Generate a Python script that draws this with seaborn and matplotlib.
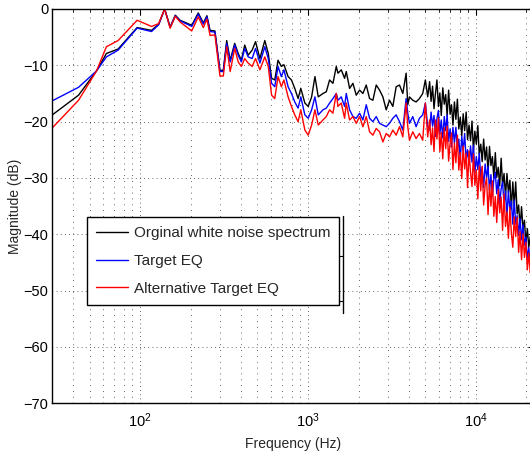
import matplotlib
matplotlib.use("Agg")
import matplotlib.pyplot as plt
import seaborn as sns
import pandas as pd
from matplotlib.lines import Line2D
from matplotlib.ticker import LogLocator

# ---------------- data ----------------
freq_hz = [
    30, 43, 55, 63, 74, 96, 117, 129, 140, 151, 162, 173, 203, 222, 238, 250, 261, 279, 299, 313, 328,
    344, 366, 384, 401, 420, 440, 465, 487, 517, 553, 580, 607, 634, 663, 694, 719, 761, 797, 834, 873,
    906, 958, 1003, 1051, 1100, 1151,
    1228, 1285, 1345, 1408, 1474, 1508, 1578, 1652, 1690, 1769, 1852, 1938, 2029, 2124, 2223, 2327, 2435,
    2549, 2668, 2793, 2923, 3058, 3201, 3351, 3507, 3671, 3841, 3929, 4020, 4208, 4404, 4610, 4823, 5001, 5164,
    5300, 5410, 5520, 5630, 5740, 5860, 5980, 6100, 6220, 6350, 6480, 6610, 6740, 6880, 7020, 7160, 7300,
    7450, 7600, 7760, 7910, 8070, 8240, 8400, 8570, 8750, 8920, 9100, 9290, 9480, 9670, 9860, 10060, 10270,
    10470, 10690, 10900, 11120, 11350, 11580, 11810, 12050, 12290, 12540, 12790, 13050, 13310, 13580, 13860,
    14140, 14420, 14710, 15010, 15310, 15620, 15940, 16260, 16590, 16920, 17260, 17610, 17970, 18330, 18700,
    19080, 19460, 19850, 20250, 20660, 21080, 21500,
]

original_db = [
    -18.8, -15.3, -11.0, -7.9, -7.1, -3.3, -3.8, -2.7, 0.0, -3.2, -1.1, -2.0, -2.9, -0.7, -2.5, -1.2, -3.8, -3.9, -10.9, -10.9, -5.6,
    -9.1, -6.1, -7.9, -9.1, -6.4, -8.2, -7.3, -5.8, -8.8, -5.6, -7.9, -12.3, -12.6, -9.1, -10.2, -9.9, -12.0, -12.6, -14.1, -15.9,
    -14.1, -16.7, -17.3, -15.6, -12.0, -15.6,
    -15.0, -14.7, -12.6, -13.2, -10.2, -11.4, -10.8, -12.3, -11.1, -14.1, -13.2, -15.3, -14.4, -15.0, -13.5, -15.9, -16.2,
    -13.5, -14.4, -15.6, -17.9, -16.2, -17.3, -13.8, -13.5, -15.0, -11.4, -17.0, -15.6, -16.2, -16.5, -15.9, -15.0, -12.6, -15.6,
    -12.9, -16.4, -13.7, -17.7, -15.1, -12.6, -17.3, -14.9, -18.9, -14.0, -16.9, -15.2, -19.0, -14.4, -18.7, -17.0, -20.6,
    -16.5, -19.6, -16.0, -21.3, -19.2, -22.5, -18.6, -21.6, -18.3, -23.2, -20.6, -23.4, -19.9, -25.1, -21.7, -24.0, -20.7,
    -25.9, -24.0, -27.1, -23.1, -26.8, -24.5, -29.2, -24.4, -27.8, -26.2, -30.0, -25.5, -29.9, -28.1, -31.4,
    -26.5, -31.4, -29.2, -33.3, -29.2, -32.6, -30.4, -35.5, -30.7, -35.0, -30.7, -36.4, -34.8, -38.8,
    -35.1, -39.1, -37.5, -41.6, -39.0, -42.3, -40.4, -42.5,
]

target_db = [
    -16.3, -13.9, -11.0, -8.5, -7.3, -3.4, -4.0, -2.8, 0.0, -3.3, -1.2, -2.1, -3.1, -0.9, -2.7, -1.4, -4.0, -4.1, -11.1, -11.1, -6.1,
    -9.4, -6.4, -8.2, -9.4, -7.0, -8.5, -8.8, -7.0, -9.6, -6.7, -8.8, -13.2, -13.8, -10.2, -12.0, -10.8, -13.8, -15.0, -16.5, -17.6,
    -15.6, -18.8, -19.4, -17.9, -15.6, -18.8,
    -17.9, -17.6, -16.7, -15.9, -15.0, -16.2, -15.6, -17.3, -15.0, -17.9, -19.1, -19.4, -18.5, -19.7, -17.0, -19.4, -20.0,
    -19.1, -20.3, -20.6, -20.9, -20.3, -19.4, -18.8, -20.0, -21.5, -15.9, -18.5, -20.3, -19.1, -20.9, -19.4, -18.8, -16.7, -20.9,
    -21.5, -18.3, -20.8, -18.9, -22.6, -19.5, -18.0, -22.2, -19.7, -22.9, -19.1, -21.6, -18.8, -23.5, -21.3, -24.5, -21.0,
    -23.8, -21.0, -24.9, -23.1, -26.7, -22.6, -25.2, -22.1, -26.7, -25.0, -27.7, -24.3, -27.2, -24.2, -29.1, -26.2, -28.5,
    -25.6, -30.0, -28.1, -31.7, -27.5, -30.0, -27.9, -32.2, -29.4, -33.2, -30.2, -29.0, -32.8, -30.3, -34.5,
    -31.9, -30.7, -34.8, -32.3, -36.8, -32.3, -35.7, -34.1, -38.2, -33.9, -38.2, -36.7, -40.2, -37.2,
    -41.0, -38.3, -41.9, -40.5, -44.4, -42.4, -45.4, -44.4,
]

alternative_db = [
    -21.1, -16.2, -11.0, -6.7, -5.6, -2.0, -3.1, -2.6, 0.0, -3.4, -1.3, -2.3, -3.9, -1.4, -3.3, -1.8, -4.7, -4.6, -11.9, -11.9, -6.7,
    -11.1, -7.0, -9.4, -10.2, -8.8, -9.6, -10.2, -8.8, -10.8, -8.5, -10.2, -15.3, -15.9, -12.0, -13.8, -12.6, -15.6, -17.3, -18.8, -20.0,
    -17.9, -21.5, -22.4, -20.6, -17.9, -20.6,
    -19.7, -19.1, -17.9, -18.5, -15.0, -17.3, -16.7, -19.4, -16.7, -19.7, -19.1, -20.3, -19.1, -20.9, -19.1, -21.8, -22.4,
    -21.2, -21.8, -23.6, -22.1, -22.7, -21.5, -22.4, -20.9, -22.7, -16.7, -20.9, -23.3, -21.8, -23.0, -22.1, -23.3, -16.7, -22.7,
    -19.7, -24.1, -21.1, -25.3, -19.7, -23.1, -19.3, -25.3, -21.9, -26.6, -21.1, -24.8, -20.8, -27.0, -23.8, -22.0, -28.5,
    -23.8, -27.3, -22.4, -28.6, -25.5, -30.1, -24.3, -28.4, -25.6, -31.7, -25.2, -29.0, -31.5, -25.7, -31.3, -28.6, -33.7,
    -27.9, -32.3, -27.9, -34.8, -31.3, -30.0, -36.5, -31.1, -35.0, -30.5, -36.8, -33.3, -37.9, -32.1, -36.2,
    -33.4, -39.3, -32.8, -38.6, -36.0, -40.7, -35.2, -39.7, -42.3, -36.9, -40.4, -37.0, -43.2, -39.5,
    -44.5, -39.9, -44.1, -41.4, -46.3, -43.3, -46.8, -45.5,
]

series_labels = ["Orginal white noise spectrum", "Target EQ", "Alternative Target EQ"]
series_colors = ["#000000", "#0000ff", "#ff0000"]

x_label = "Frequency (Hz)"
y_label = "Magnitude (dB)"
y_ticks = [0, -10, -20, -30, -40, -50, -60, -70]
tick_labels_y = ["0", "\u221210", "\u221220", "\u221230", "\u221240", "\u221250", "\u221260", "\u221270"]

# ---------------- style ----------------
sns.set_style("white")
plt.rcParams["font.family"] = ["Liberation Sans", "DejaVu Sans"]
plt.rcParams["mathtext.fontset"] = "custom"
plt.rcParams["mathtext.rm"] = "Liberation Sans"
plt.rcParams["axes.unicode_minus"] = True

fig = plt.figure(figsize=(5.30, 4.54), dpi=100)
ax = fig.add_axes([0.0987, 0.1117, 0.908, 0.8685])
ax.set_xscale("log")

frames = []
for lab, vals in zip(series_labels, [original_db, target_db, alternative_db]):
    frames.append(pd.DataFrame({"freq": freq_hz, "db": vals, "series": lab}))
df = pd.concat(frames, ignore_index=True)

for lab, col in zip(series_labels, series_colors):
    sub = df[df["series"] == lab]
    sns.lineplot(data=sub, x="freq", y="db", ax=ax, color=col, linewidth=1.0,
                 label=lab, sort=False, estimator=None)

ax.set_xlim(30, 22050)
ax.set_ylim(-70, 0)
ax.set_yticks(y_ticks)
ax.set_yticklabels(tick_labels_y)
ax.xaxis.set_major_locator(LogLocator(base=10))
ax.xaxis.set_minor_locator(LogLocator(base=10, subs=range(2, 10)))

ax.grid(True, which="major", axis="both", color="#333333", linestyle=(0, (1, 4)), linewidth=0.6)
ax.grid(True, which="minor", axis="x", color="#333333", linestyle=(0, (1, 6)), linewidth=0.6)

for s in ax.spines.values():
    s.set_color("black")
    s.set_linewidth(1.0)

ax.tick_params(axis="both", which="both", direction="in", top=True, right=True,
               labelsize=10.5, colors="black", pad=3)
ax.tick_params(axis="both", which="major", length=4, width=0.8)
ax.tick_params(axis="both", which="minor", length=2.5, width=0.6)
ax.tick_params(axis="x", which="major", pad=6)

ax.set_xlabel(x_label, fontsize=10, labelpad=5)
ax.set_ylabel(y_label, fontsize=10, labelpad=1)

leg = ax.legend(loc="upper left", bbox_to_anchor=(0.072, 0.4725), borderaxespad=0,
                fontsize=11, frameon=True, fancybox=False, framealpha=1,
                edgecolor="black", handlelength=2.1, handletextpad=0.35,
                borderpad=0.6, labelspacing=0.9)
leg.get_frame().set_linewidth(1.0)
for ln in leg.get_lines():
    ln.set_linewidth(1.0)

# stray axis-like line to the right of the legend
W, H = 530.0, 454.0
fig.add_artist(Line2D([342.5 / W, 342.5 / W], [1 - 215.5 / H, 1 - 313 / H], color="black", linewidth=1.0))
for yy in (256, 300.5):
    fig.add_artist(Line2D([338.5 / W, 342.5 / W], [1 - yy / H, 1 - yy / H], color="black", linewidth=0.8))

fig.savefig("out.png", dpi=100)
